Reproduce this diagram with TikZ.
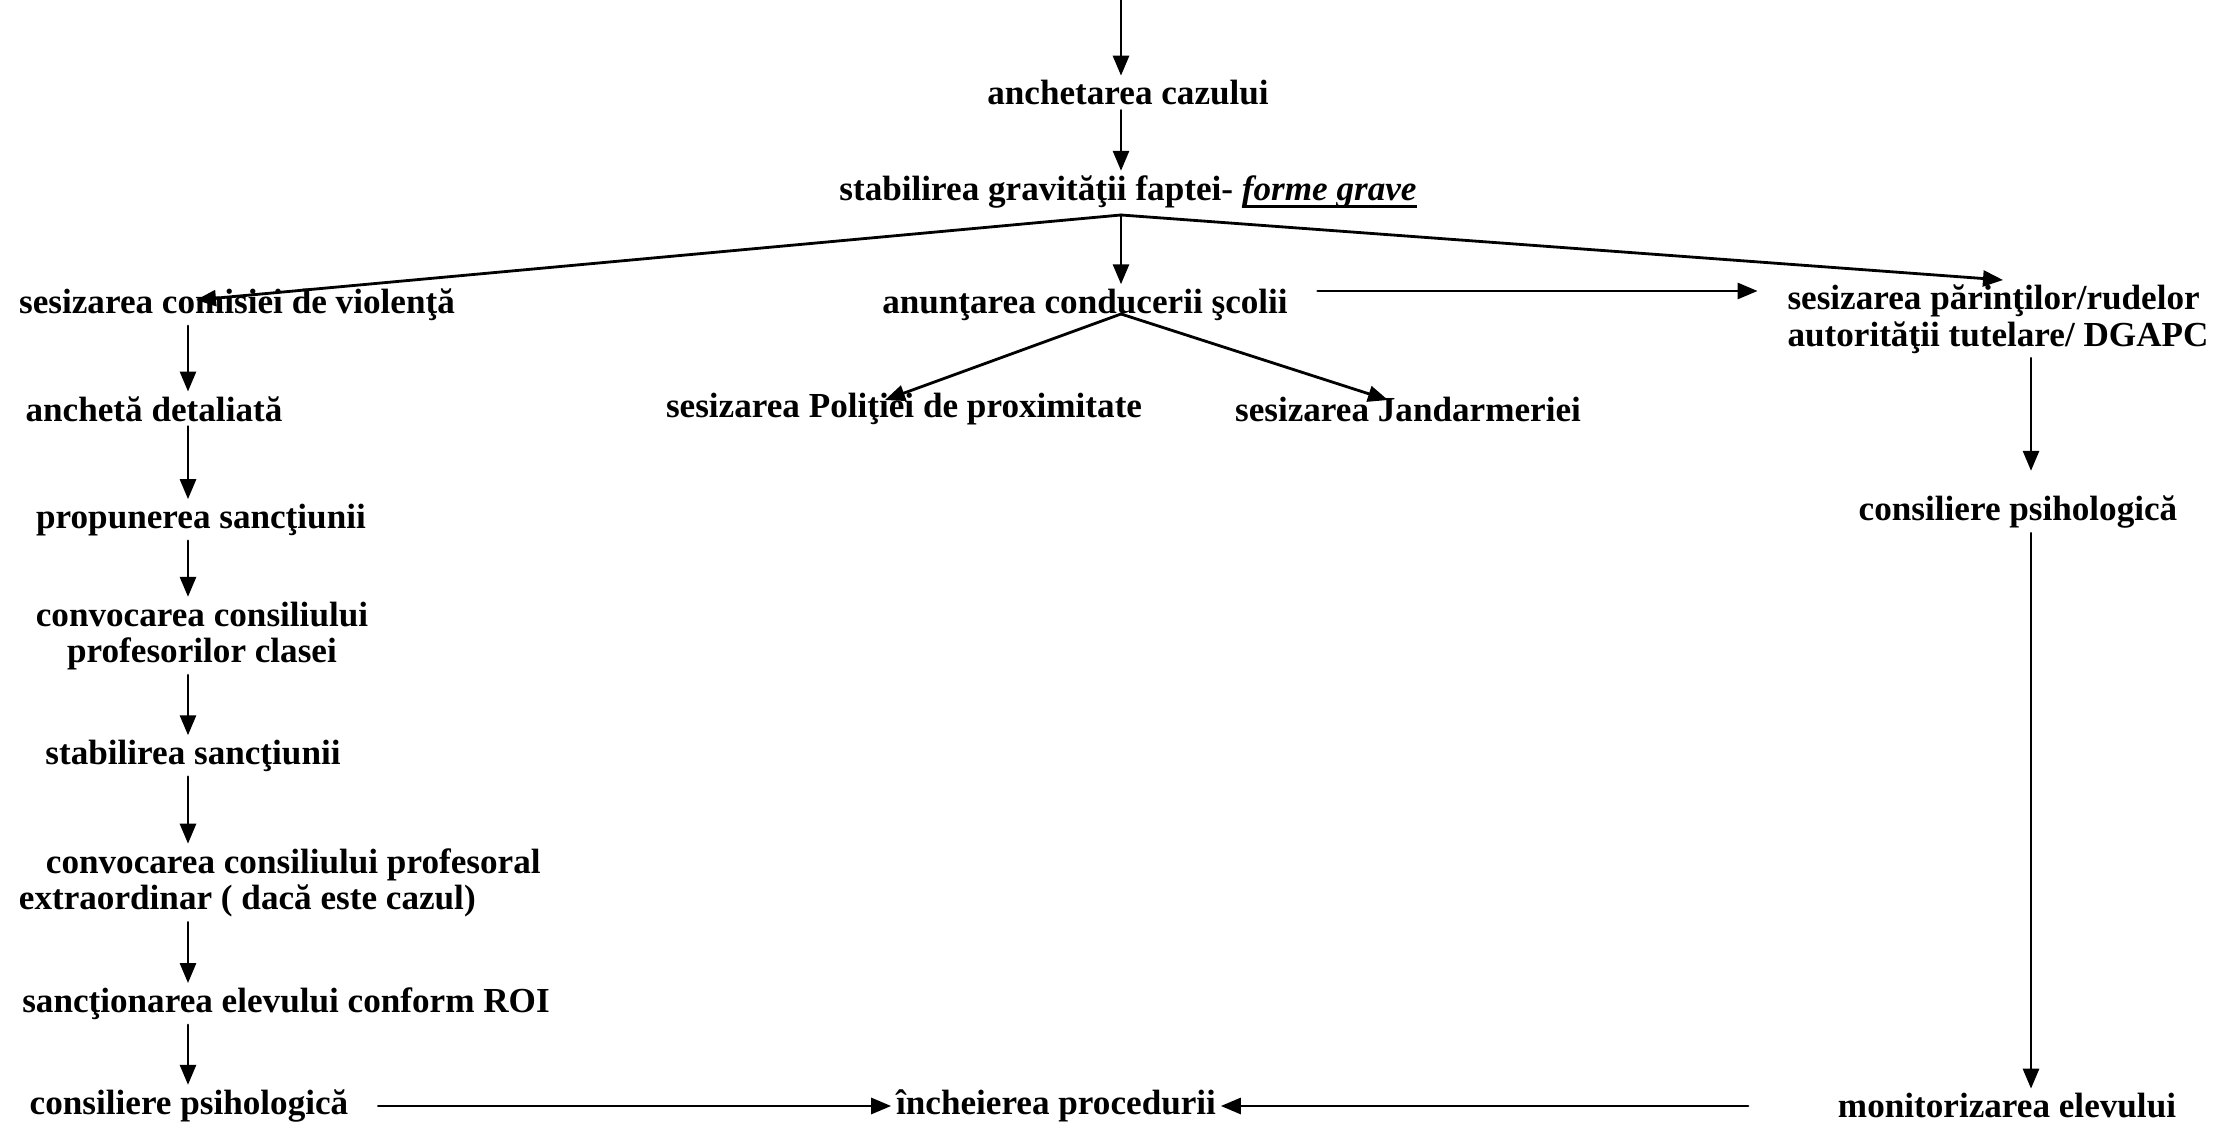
\documentclass[tikz,border=0pt]{standalone}
\usepackage{fontspec}
\setmainfont{Liberation Serif}
\newcommand\thickul[1]{\setbox0\hbox{#1}\rlap{\rule[-2.2pt]{\wd0}{0.9pt}}\box0}
\usetikzlibrary{arrows.meta,calc,positioning}

\begin{document}
\begin{tikzpicture}[line join=round, line cap=round, thick,
  txt/.style={inner sep=1pt, align=center, font=\bfseries\fontsize{10}{10.4}\selectfont},
  arr/.style={-{Triangle[length=2mm,width=1.6mm]}}]
\useasboundingbox (0,0) rectangle (22.17,-11.24);
\coordinate (T) at (11.21,0);
\coordinate (L) at (1.88,0);
\coordinate (R) at (20.31,0);
% middle
\node[txt] (anch) at (11.28,-0.93) {anchetarea cazului};
\node[txt] (grav) at (11.28,-1.92) {stabilirea gravităţii faptei- \thickul{\textit{forme grave}}};
\coordinate (Br) at (11.21,-2.15);
\node[txt] (anun) at (10.85,-3.05) {anunţarea conducerii şcolii};
\coordinate (Br2) at (11.21,-3.14);
\node[txt] (pol) at (9.04,-4.09) {sesizarea Poliţiei de proximitate};
\node[txt] (jan) at (14.08,-4.09) {sesizarea Jandarmeriei};
\node[txt] (inch) at (10.56,-11.06) {încheierea procedurii};
% left
\node[txt] (com) at (2.37,-3.05) {sesizarea comisiei de violenţă};
\node[txt] (anc) at (1.54,-4.09) {anchetă detaliată};
\node[txt] (prop) at (2.01,-5.20) {propunerea sancţiunii};
\node[txt] (conv1) at (2.02,-6.36) {convocarea consiliului\\profesorilor clasei};
\node[txt] (stab) at (1.93,-7.56) {stabilirea sancţiunii};
\node[txt,align=left,anchor=west] (conv2) at (0.14,-8.83) {\hspace*{2.7mm}convocarea consiliului profesoral\\extraordinar ( dacă este cazul)};
\node[txt] (sanc) at (2.86,-10.04) {sancţionarea elevului conform ROI};
\node[txt] (cons1) at (1.89,-11.06) {consiliere psihologică};
% right
\node[txt,align=left] (par) at (19.98,-3.19) {sesizarea părinţilor/rudelor\\autorităţii tutelare/ DGAPC};
\node[txt] (cons2) at (20.18,-5.12) {consiliere psihologică};
\node[txt] (mon) at (20.07,-11.06) {monitorizarea elevului};
% arrow tips inside texts
\coordinate (comtip) at (1.96,-3.0);
\coordinate (partip) at (20.03,-2.80);
\coordinate (poltip) at (8.85,-4.0);
\coordinate (jantip) at (13.88,-4.0);

\draw[arr] (T)--(anch.north -| T);
\draw[arr] (anch.south -| T)--(grav.north -| T);
\draw[arr] (Br)--(comtip);
\draw[arr] (Br)--(anun.north -| Br);
\draw[arr] (Br)--(partip);
\draw[arr] (Br2)--(poltip);
\draw[arr] (Br2)--(jantip);
\draw[arr,shorten <=2.5mm,shorten >=2.5mm] ([yshift=1.4mm]anun.east)--([yshift=1.4mm]anun.east -| par.west);
\foreach \a/\b in {com/anc,anc/prop,prop/conv1,conv1/stab,stab/conv2,conv2/sanc,sanc/cons1}
  \draw[arr] (\a.south -| L)--(\b.north -| L);
\draw[arr,shorten >=2mm] (par.south -| R)--(cons2.north -| R);
\draw[arr] (cons2.south -| R)--(mon.north -| R);
\draw[arr,shorten <=2.5mm] (cons1.east)--(inch.west);
\draw[arr,shorten <=0.85cm] (mon.west)--(inch.east);
\end{tikzpicture}
\end{document}
